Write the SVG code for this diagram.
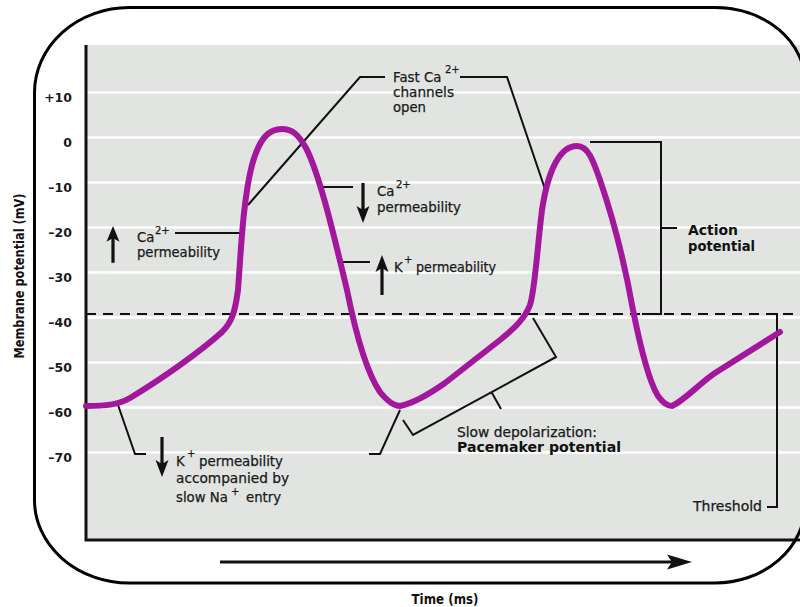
<svg xmlns="http://www.w3.org/2000/svg" width="800" height="607" viewBox="0 0 800 607">
<style>
.grid{stroke:#ffffff;stroke-width:2.5;fill:none}
.axis{stroke:#111;stroke-width:3;fill:none}
.lead{stroke:#111;stroke-width:2;fill:none;stroke-linejoin:miter}
.curve{stroke:#a3179c;stroke-width:6;fill:none;stroke-linecap:round;stroke-linejoin:round}
.tick{font-family:"DejaVu Sans","Liberation Sans",sans-serif;font-weight:bold;font-size:12.5px;fill:#1a1a1a;text-anchor:end}
.t{font-family:"DejaVu Sans","Liberation Sans",sans-serif;font-size:13.3px;fill:#1a1a1a;stroke:#1a1a1a;stroke-width:0.25}
.b{font-family:"DejaVu Sans","Liberation Sans",sans-serif;font-size:13.3px;font-weight:bold;fill:#111}
.sup{font-size:10px}
.arr{fill:#111}
</style>
<defs>
<path id="arrowUp" d="M0 0 L6.5 17 L1.6 14 V40 H-1.6 V14 L-6.5 17 Z"/>
</defs>
<rect x="86" y="45" width="720" height="495" fill="#e1e4e1"/>
<g id="gridlines">
<path class="grid" d="M86 92.5H800M86 137.5H800M86 182.5H800M86 227.5H800M86 272.5H800M86 317.5H800M86 362.5H800M86 407.5H800M86 452.5H800"/>
</g>
<g id="ticks">
<text class="tick" x="72" y="101.5">+10</text>
<text class="tick" x="72" y="146.5">0</text>
<text class="tick" x="72" y="191.5">–10</text>
<text class="tick" x="72" y="236.5">–20</text>
<text class="tick" x="72" y="281.5">–30</text>
<text class="tick" x="72" y="326.5">–40</text>
<text class="tick" x="72" y="371.5">–50</text>
<text class="tick" x="72" y="416.5">–60</text>
<text class="tick" x="72" y="461.5">–70</text>
</g>
<g id="axes">
<path class="axis" d="M86 45V541.5M84.5 540H800"/>
<text class="b" font-size="11.5" text-anchor="middle" transform="translate(24,276) rotate(-90)" textLength="165" lengthAdjust="spacingAndGlyphs">Membrane potential (mV)</text>
<text class="b" x="445" y="604" font-size="12" text-anchor="middle" textLength="67" lengthAdjust="spacingAndGlyphs">Time (ms)</text>
<path class="axis" d="M220 562H675"/>
<path class="arr" d="M692 562 L667 554.5 L672 562 L667 569.5 Z"/>
</g>
<g id="threshold-line">
<path d="M86 314H800" stroke="#111" stroke-width="2" stroke-dasharray="10 7" fill="none"/>
</g>
<g id="connectors">
<path class="lead" d="M385 77H360L248 205"/>
<path class="lead" d="M460 77H507L546 192"/>
<path class="lead" d="M320 187H353"/>
<path class="lead" d="M340 262H370"/>
<path class="lead" d="M175 233H240"/>
<path class="lead" d="M118 405L135 454H146"/>
<path class="lead" d="M400 410L380 454H369"/>
<path class="lead" d="M533 318L556 357L413 435L403 420M492 393L501 409"/>
<path class="lead" d="M590 142H661V314H642M661 228H677"/>
<path class="lead" d="M770 314H777V507H767"/>
</g>
<g id="membrane-potential-curve">
<path class="curve" d="M86 406 C105 406,118 405,130 398 C160 380,200 352,222 332 C232 322,235 312,238 290 C241 250,243 200,252 165 C260 136,270 129,282 129 C292 129,298 134,306 148 C320 175,335 240,347 290 C355 330,365 370,380 392 C388 402,394 406,400 406 C410 404,425 397,445 383 L500 340 C515 328,525 318,530 305 C535 290,537 250,542 210 C548 170,560 146,577 146 C588 146,593 160,600 180 C612 215,625 265,633 310 C640 345,648 380,658 396 C663 403,667 406,672 406 C685 400,700 383,715 373 L780 332"/>
</g>
<g id="node-fast-ca">
<text class="t"><tspan x="393" y="82">Fast Ca</tspan><tspan class="sup" x="445" y="73">2+</tspan></text>
<text class="t" x="393" y="97" textLength="61" lengthAdjust="spacingAndGlyphs">channels</text>
<text class="t" x="393" y="112" textLength="33" lengthAdjust="spacingAndGlyphs">open</text>
</g>
<g id="node-ca-down">
<use href="#arrowUp" class="arr" transform="translate(363,223) rotate(180)"/>
<text class="t"><tspan x="377" y="196">Ca</tspan><tspan class="sup" x="396" y="188">2+</tspan></text>
<text class="t" x="377" y="212" textLength="84" lengthAdjust="spacingAndGlyphs">permeability</text>
</g>
<g id="node-k-up">
<use href="#arrowUp" class="arr" transform="translate(382,255)"/>
<text class="t"><tspan x="394" y="272">K</tspan><tspan class="sup" x="404" y="263">+</tspan><tspan x="416" y="272" textLength="80" lengthAdjust="spacingAndGlyphs">permeability</tspan></text>
</g>
<g id="node-ca-up">
<use href="#arrowUp" class="arr" transform="translate(113,226) scale(1,0.92)"/>
<text class="t"><tspan x="137" y="242">Ca</tspan><tspan class="sup" x="155" y="234">2+</tspan></text>
<text class="t" x="137" y="257" textLength="83" lengthAdjust="spacingAndGlyphs">permeability</text>
</g>
<g id="node-k-down">
<use href="#arrowUp" class="arr" transform="translate(162,477) rotate(180)"/>
<text class="t"><tspan x="176" y="466">K</tspan><tspan class="sup" x="187" y="457">+</tspan><tspan x="199" y="466" textLength="84" lengthAdjust="spacingAndGlyphs">permeability</tspan></text>
<text class="t" x="176" y="483" textLength="113" lengthAdjust="spacingAndGlyphs">accompanied by</text>
<text class="t"><tspan x="176" y="502">slow Na</tspan><tspan class="sup" x="231" y="495">+</tspan><tspan x="246" y="502">entry</tspan></text>
</g>
<g id="node-pacemaker">
<text class="t" x="457" y="437" textLength="140" lengthAdjust="spacingAndGlyphs">Slow depolarization:</text>
<text class="b" x="457" y="452" textLength="164" lengthAdjust="spacingAndGlyphs">Pacemaker potential</text>
</g>
<g id="node-action-potential">
<text class="b" x="688" y="235" textLength="50" lengthAdjust="spacingAndGlyphs">Action</text>
<text class="b" x="688" y="251" textLength="67" lengthAdjust="spacingAndGlyphs">potential</text>
</g>
<g id="node-threshold">
<text class="t" x="762" y="511" text-anchor="end" textLength="69" lengthAdjust="spacingAndGlyphs">Threshold</text>
</g>
<g id="frame">
<path d="M129 7.5H715A90 75 0 0 1 805 82.5V505A90 78 0 0 1 715 583H129A95 83 0 0 1 34.5 500V92.5A95 85 0 0 1 129 7.5Z" fill="none" stroke="#000" stroke-width="3"/>
</g>
</svg>
